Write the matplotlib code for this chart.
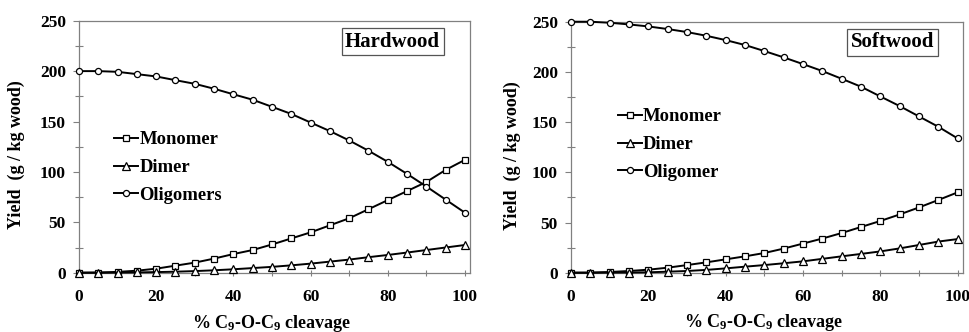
import numpy as np
import matplotlib.pyplot as plt
from matplotlib.ticker import MultipleLocator

# ============================================================
# DATA
# ============================================================

cleavage = [0, 5, 10, 15, 20, 25, 30, 35, 40, 45, 50,
            55, 60, 65, 70, 75, 80, 85, 90, 95, 100]

hw_monomer   = [0, 0.2, 0.8, 2, 4, 7, 10, 14, 18.5, 22.5, 28,
                34, 40, 47, 54, 63, 72, 81, 90, 102, 112]
hw_dimer     = [0, 0, 0.1, 0.3, 0.6, 1.0, 1.6, 2.4, 3.4, 4.6, 5.8,
                7.3, 9, 11, 13, 15.4, 17.6, 20, 22.5, 25, 27.5]
hw_oligomers = [200, 200, 199.3, 197, 194.7, 191, 187.4, 182.5, 177, 171.6, 164.6,
                157.5, 149, 140.5, 131.2, 121, 110, 98, 85.5, 72.5, 59.5]

sw_monomer   = [0, 0.1, 0.7, 1.7, 3, 5, 7.6, 10.3, 13.3, 16.3, 19.6,
                24, 29, 34, 39.5, 45.5, 51.5, 58, 65, 72.4, 80]
sw_dimer     = [0, 0, 0.1, 0.2, 0.4, 1.0, 1.7, 2.8, 4.3, 6, 7.6,
                9.4, 11.3, 13.8, 16.3, 18.7, 21.2, 24.2, 27.6, 31, 33.5]
sw_oligomer  = [250, 250, 249, 247.3, 245.3, 242.7, 239.7, 236, 231.7, 226.8, 220.8,
                214.5, 207.8, 200.9, 193.2, 185.3, 175.6, 166, 155.7, 145.4, 133.8]

# ============================================================
# STYLE
# ============================================================

plt.rcParams["font.family"] = ["Liberation Serif", "DejaVu Serif"]
plt.rcParams["font.weight"] = "bold"
plt.rcParams["mathtext.fontset"] = "custom"
plt.rcParams["mathtext.rm"] = "Liberation Serif:bold"
plt.rcParams["mathtext.default"] = "rm"

SPINE_COL = "#808080"
line_kw = dict(color="black", linewidth=1.4, markerfacecolor="white",
               markeredgecolor="black", markeredgewidth=0.9)

fig = plt.figure(figsize=(9.69, 3.32), dpi=100)

panels = [
    dict(rect=[79 / 969, 0.1786, 391 / 969, 0.759], ymax=250, xmax=101.3,
         series=[(hw_monomer, "s", 4.6, "Monomer"),
                 (hw_dimer, "^", 5.2, "Dimer"),
                 (hw_oligomers, "o", 4.4, "Oligomers")],
         leg_anchor=(0.09, 0.417), tag="Hardwood", tag_pos=(0.802, 0.917),
         ylab_x=-0.159),
    dict(rect=[571 / 969, 0.1786, 392 / 969, 0.756], ymax=250, xmax=101.4,
         series=[(sw_monomer, "s", 4.6, "Monomer"),
                 (sw_dimer, "^", 5.2, "Dimer"),
                 (sw_oligomer, "o", 4.4, "Oligomer")],
         leg_anchor=(0.12, 0.51), tag="Softwood", tag_pos=(0.82, 0.919),
         ylab_x=-0.15),
]

for p in panels:
    ax = fig.add_axes(p["rect"])
    for vals, mk, ms, lab in p["series"]:
        ax.plot(cleavage, vals, marker=mk, markersize=ms, label=lab,
                clip_on=False, zorder=3, **line_kw)

    ax.set_xlim(0, p["xmax"])
    ax.set_ylim(0, p["ymax"])
    ax.set_xticks([0, 20, 40, 60, 80, 100])
    ax.xaxis.set_minor_locator(MultipleLocator(10))
    ax.yaxis.set_major_locator(MultipleLocator(50))
    ax.yaxis.set_minor_locator(MultipleLocator(25))
    ax.tick_params(axis="x", which="both", length=5, width=0.8, color=SPINE_COL,
                   direction="inout", pad=9.5, labelsize=12.5)
    ax.tick_params(axis="y", which="major", length=4, width=0.8,
                   color=SPINE_COL, pad=5.5, labelsize=12.5, direction="out")
    ax.tick_params(axis="y", which="minor", length=6, width=0.8,
                   color=SPINE_COL, direction="inout")
    for lbl in ax.get_xticklabels() + ax.get_yticklabels():
        lbl.set_fontweight("bold")
    for s in ax.spines.values():
        s.set_color(SPINE_COL)
        s.set_linewidth(0.9)

    ax.set_ylabel("Yield  (g / kg wood)", fontsize=13, fontweight="bold")
    ax.yaxis.label.set_va("center")
    ax.yaxis.set_label_coords(p["ylab_x"], 0.467)
    ax.set_xlabel("% C$_9$-O-C$_9$ cleavage", fontsize=13, fontweight="bold")
    ax.xaxis.label.set_va("center")
    ax.xaxis.set_label_coords(0.492, -0.2)

    ax.legend(loc="center left", bbox_to_anchor=p["leg_anchor"], frameon=False,
              borderpad=0, borderaxespad=0, handlelength=1.3, handletextpad=0.05,
              labelspacing=0.575, prop=dict(size=13.4, weight="bold"))

    ax.text(p["tag_pos"][0], p["tag_pos"][1], p["tag"], transform=ax.transAxes,
            ha="center", va="center", fontsize=15, fontweight="bold",
            bbox=dict(boxstyle="square,pad=0.17", facecolor="white",
                      edgecolor="#555555", linewidth=0.9))

fig.savefig("out.png", dpi=100)
